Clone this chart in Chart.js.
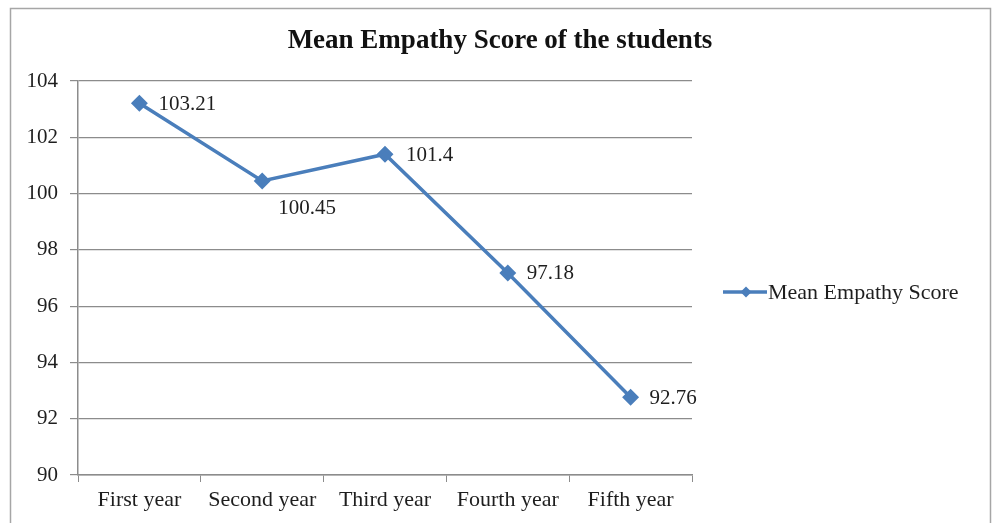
<!DOCTYPE html>
<html>
<head>
<meta charset="utf-8">
<script src="https://cdn.jsdelivr.net/npm/chart.js@4/dist/chart.umd.min.js"></script>
<style>
  html, body { margin: 0; padding: 0; background: #fff; }
  #wrap { position: absolute; left: 0; top: 0; width: 995px; height: 523px; }
</style>
</head>
<body>
<div id="wrap"><canvas id="c" width="995" height="523"></canvas></div>
<script>
const categories = ["First year", "Second year", "Third year", "Fourth year", "Fifth year"];
const seriesName = "Mean Empathy Score";
const meanScores = [103.21, 100.45, 101.4, 97.18, 92.76];
const labelTexts = ["103.21", "100.45", "101.4", "97.18", "92.76"];
const yTicks = [90, 92, 94, 96, 98, 100, 102, 104];
const chartTitle = "Mean Empathy Score of the students";

const LINE_COLOR = "#4A7EBB";
const SERIF = "'Liberation Serif', 'DejaVu Serif', serif";

const frameAndTitlePlugin = {
  id: 'frameAndTitle',
  beforeDraw(chart) {
    const ctx = chart.ctx;
    ctx.save();
    ctx.fillStyle = '#fff';
    ctx.fillRect(0, 0, chart.width, chart.height);
    ctx.strokeStyle = '#a6a6a6';
    ctx.lineWidth = 1.5;
    ctx.strokeRect(10.5, 8.5, 980, 600);
    ctx.font = "bold 27px " + SERIF;
    ctx.fillStyle = '#111';
    ctx.textAlign = 'center';
    ctx.textBaseline = 'alphabetic';
    ctx.fillText(chartTitle, 500, 48);
    ctx.restore();
  }
};

const dataLabelPlugin = {
  id: 'pointLabels',
  afterDatasetsDraw(chart) {
    const ctx = chart.ctx;
    const meta = chart.getDatasetMeta(0);
    ctx.save();
    ctx.font = "21px " + SERIF;
    ctx.fillStyle = '#1e1e1e';
    ctx.textAlign = 'left';
    ctx.textBaseline = 'middle';
    meta.data.forEach((pt, i) => {
      let dx = 19, dy = 1;
      if (i === 1) { dx = 16; dy = 28; }
      if (i === 2) { dx = 21; dy = 1; }
      ctx.fillText(labelTexts[i], pt.x + dx, pt.y + dy);
    });
    ctx.restore();
  }
};

const legendPlugin = {
  id: 'customLegend',
  afterDraw(chart) {
    const ctx = chart.ctx;
    const y = 292;
    ctx.save();
    ctx.strokeStyle = LINE_COLOR;
    ctx.lineWidth = 3.5;
    ctx.beginPath();
    ctx.moveTo(723, y);
    ctx.lineTo(767, y);
    ctx.stroke();
    ctx.fillStyle = LINE_COLOR;
    ctx.beginPath();
    ctx.moveTo(746, y - 5.5);
    ctx.lineTo(751.5, y);
    ctx.lineTo(746, y + 5.5);
    ctx.lineTo(740.5, y);
    ctx.closePath();
    ctx.fill();
    ctx.font = "22px " + SERIF;
    ctx.fillStyle = '#1e1e1e';
    ctx.textAlign = 'left';
    ctx.textBaseline = 'alphabetic';
    ctx.fillText(seriesName, 768, 299);
    ctx.restore();
  }
};

new Chart(document.getElementById('c'), {
  type: 'line',
  data: {
    labels: categories,
    datasets: [{
      label: seriesName,
      data: meanScores,
      borderColor: LINE_COLOR,
      backgroundColor: LINE_COLOR,
      borderWidth: 3.5,
      pointStyle: 'rectRot',
      pointRadius: 6,
      pointHoverRadius: 6,
      tension: 0,
      fill: false
    }]
  },
  options: {
    responsive: false,
    animation: false,
    events: [],
    layout: { padding: { left: 10, right: 303, top: 81, bottom: 0 } },
    plugins: {
      legend: { display: false },
      tooltip: { enabled: false },
      title: { display: false }
    },
    scales: {
      x: {
        offset: true,
        afterFit(scale) { scale.height = 48; },
        grid: {
          offset: true,
          drawOnChartArea: false,
          drawTicks: true,
          tickLength: 7,
          color: '#8c8c8c',
          lineWidth: 1
        },
        border: { display: true, color: '#8c8c8c', width: 1.5 },
        ticks: {
          color: '#1e1e1e',
          font: { family: SERIF, size: 22 },
          padding: 5,
          maxRotation: 0,
          autoSkip: false
        }
      },
      y: {
        min: 90,
        max: 104,
        afterFit(scale) { scale.width = 68; },
        afterBuildTicks(scale) { scale.ticks = yTicks.map(v => ({ value: v })); },
        grid: {
          color: '#8c8c8c',
          lineWidth: 1.2,
          tickLength: 8,
          drawTicks: true
        },
        border: { display: true, color: '#8c8c8c', width: 1.5 },
        ticks: {
          color: '#1e1e1e',
          font: { family: SERIF, size: 21 },
          padding: 12,
          stepSize: 2
        }
      }
    }
  },
  plugins: [frameAndTitlePlugin, dataLabelPlugin, legendPlugin]
});
</script>
</body>
</html>
